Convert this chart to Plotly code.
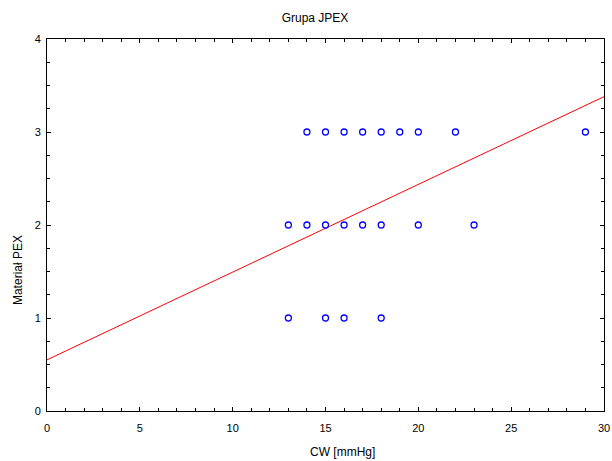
import plotly.graph_objects as go

# Scatter data (CW [mmHg] vs Materiał PEX)
cw = [14, 15, 16, 17, 18, 19, 20, 22, 29,
      13, 14, 15, 16, 17, 18, 20, 23,
      13, 15, 16, 18]
pex = [3, 3, 3, 3, 3, 3, 3, 3, 3,
       2, 2, 2, 2, 2, 2, 2, 2,
       1, 1, 1, 1]

# Regression line endpoints
fit_x = [0, 30]
fit_y = [0.55, 3.38]

x_title = "CW [mmHg]"
y_title = "Materiał PEX"
chart_title = "Grupa JPEX"

fig = go.Figure()
fig.add_trace(go.Scatter(x=fit_x, y=fit_y, mode="lines",
                         line=dict(color="#ff0000", width=1), showlegend=False))
fig.add_trace(go.Scatter(x=cw, y=pex, mode="markers",
                         marker=dict(symbol="circle-open", size=6, color="#0000ff",
                                     line=dict(width=1.3, color="#0000ff")),
                         showlegend=False))

font = dict(family="Liberation Sans, Arial, sans-serif", size=11, color="#000000")
tfont = dict(family="Liberation Sans, Arial, sans-serif", size=12, color="#000000")
axis_common = dict(showline=True, linecolor="#000000", linewidth=1, mirror="allticks",
                   ticks="inside", ticklen=4, tickcolor="#000000", showgrid=False,
                   zeroline=False, tickfont=font, automargin=False)

fig.update_xaxes(range=[0, 30], dtick=5, tick0=0, ticklabelstandoff=7,
                 minor=dict(dtick=1, ticks="inside", ticklen=3, tickcolor="#000000", showgrid=False),
                 **axis_common)
fig.update_yaxes(range=[0, 4], dtick=1, tick0=0, ticklabelstandoff=3,
                 minor=dict(dtick=0.25, ticks="inside", ticklen=3, tickcolor="#000000", showgrid=False),
                 **axis_common)

fig.add_annotation(text=x_title, xref="paper", yref="paper", x=0.531, y=-0.110,
                   xanchor="center", yanchor="middle", showarrow=False, font=tfont)
fig.add_annotation(text=y_title, xref="paper", yref="paper", x=-0.052, y=0.379,
                   xanchor="center", yanchor="middle", showarrow=False, font=tfont,
                   textangle=-90)

fig.update_layout(
    width=612, height=461,
    margin=dict(l=47, r=8, t=39, b=50),
    paper_bgcolor="#ffffff", plot_bgcolor="#ffffff",
    font=font,
    title=dict(text=chart_title, x=315 / 612, xanchor="center", y=1 - 18 / 461, yanchor="middle",
               font=tfont, automargin=False),
)

fig.write_html("out.html", post_script="document.body.style.margin='0';",
               config={"displayModeBar": False})
